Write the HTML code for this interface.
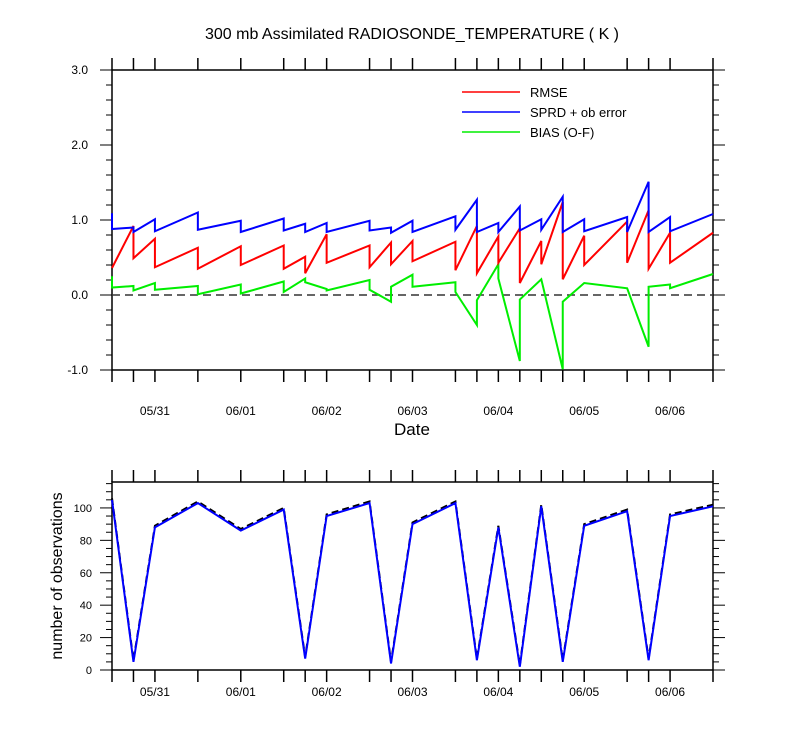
<!DOCTYPE html>
<html><head><meta charset="utf-8"><style>
body{margin:0;background:#fff}
svg{display:block;font-family:"Liberation Sans",sans-serif}
</style></head><body>
<svg id="c" width="800" height="750"></svg>
<script>
const times=[0,6,12,24,36,48,54,60,72,78,84,96,102,108,114,120,126,132,144,150,156,168];
const rmseEnd=[0.36,0.92,0.75,0.63,0.65,0.66,0.51,0.81,0.66,0.70,0.72,0.71,0.92,0.78,0.89,0.72,1.24,0.79,0.98,1.13,0.83,0.83];
const rmseStart=[0.36,0.49,0.37,0.35,0.40,0.35,0.29,0.43,0.37,0.41,0.45,0.33,0.29,0.43,0.16,0.41,0.21,0.40,0.43,0.35,0.43,0.83];
const sprdEnd=[1.09,0.90,1.01,1.10,0.99,1.02,0.95,0.96,0.99,0.90,0.99,1.05,1.27,0.96,1.18,1.01,1.31,1.01,1.04,1.51,1.04,1.08];
const sprdStart=[0.88,0.84,0.85,0.87,0.84,0.86,0.84,0.84,0.86,0.83,0.84,0.87,0.84,0.84,0.86,0.87,0.84,0.85,0.84,0.84,0.85,1.08];
const biasEnd=[0.25,0.12,0.16,0.12,0.14,0.18,0.22,0.08,0.20,-0.09,0.27,0.17,-0.40,0.41,-0.88,0.21,-0.99,0.16,0.09,-0.69,0.14,0.28];
const biasStart=[0.10,0.06,0.07,0.01,0.02,0.04,0.17,0.06,0.07,0.11,0.11,0.04,-0.07,0.22,-0.06,0.21,-0.09,0.16,0.09,0.11,0.09,0.28];
const obsTotal=[106,6,89,104,87,100,8,96,104,5,91,104,7,89,3,102,6,90,99,7,96,102];
const obsAssim=[105,5,88,103,86,99,7,95,103,4,90,103,6,88,2,101,5,89,98,6,95,101];
const dateLabels=["05/31","06/01","06/02","06/03","06/04","06/05","06/06"];
const dateHours=[12,36,60,84,108,132,156];
const yTopTicks=[-1,0,1,2,3];
const yTopLabels=["-1.0","0.0","1.0","2.0","3.0"];
const yBotTicks=[0,20,40,60,80,100];

const NS="http://www.w3.org/2000/svg";
const svg=document.getElementById('c');
function el(t,a,p){const e=document.createElementNS(NS,t);for(const k in a)e.setAttribute(k,a[k]);(p||svg).appendChild(e);return e;}
const X0=112,X1=713;
const xs=h=>X0+h/168*(X1-X0);
const T0=70,T1=370; const yT=v=>T1-(v+1)/4*(T1-T0);
const B0=482,B1=670; const yB=v=>B1-v/116*(B1-B0);

function txt(x,y,s,size,anchor,name){const t=el('text',{x:x,y:y,'font-size':size,'text-anchor':anchor||'middle',fill:'#000'});t.textContent=s;

return t;}

// title
txt(412,39,"300 mb Assimilated RADIOSONDE_TEMPERATURE ( K )",16,'middle','chart-title');

function frame(top,bot,name){
 const g=el('g',{});
 
 
 el('rect',{x:X0,y:top,width:X1-X0,height:bot-top,fill:'none',stroke:'#000','stroke-width':1.5},g);
 times.forEach(h=>{const x=xs(h);
  el('line',{x1:x,x2:x,y1:bot,y2:bot+12,stroke:'#000','stroke-width':1.5},g);
  el('line',{x1:x,x2:x,y1:top,y2:top-12,stroke:'#000','stroke-width':1.5},g);});
 return g;
}
const gT=frame(T0,T1,'top-plot-frame');
for(let v=-1;v<=3.001;v+=0.2){const y=yT(v);const maj=Math.abs(v-Math.round(v))<1e-6;const L=maj?12:6;
 el('line',{x1:X0-L,x2:X0,y1:y,y2:y,stroke:'#000','stroke-width':1},gT);
 el('line',{x1:X1,x2:X1+L,y1:y,y2:y,stroke:'#000','stroke-width':1},gT);}
yTopTicks.forEach((v,i)=>txt(88,yT(v)+4,yTopLabels[i],12,'end','y-tick-label'));
dateLabels.forEach((s,i)=>txt(xs(dateHours[i]),415,s,12,'middle','x-tick-label'));
txt(412,435,"Date",17,'middle','x-axis-title');
el('line',{x1:X0,x2:X1,y1:yT(0),y2:yT(0),stroke:'#333','stroke-width':1.5,'stroke-dasharray':'8 5'});

function saw(endA,startA,color,name){
 let d='M'+xs(times[0])+','+yT(endA[0])+' L'+xs(times[0])+','+yT(startA[0]);
 for(let i=1;i<times.length;i++){d+=' L'+xs(times[i])+','+yT(endA[i])+' L'+xs(times[i])+','+yT(startA[i]);}
 const p=el('path',{d:d,fill:'none',stroke:color,'stroke-width':2});
 
 
}
saw(biasEnd,biasStart,'#00ee00','bias-line');
saw(rmseEnd,rmseStart,'#ff0000','rmse-line');
saw(sprdEnd,sprdStart,'#0000ff','sprd-line');

const leg=[["RMSE","#ff0000"],["SPRD + ob error","#0000ff"],["BIAS (O-F)","#00ee00"]];
leg.forEach((l,i)=>{const y=92+i*20;
 const ln=el('line',{x1:462,x2:520,y1:y,y2:y,stroke:l[1],'stroke-width':1.5});
 
 txt(530,y+5,l[0],13,'start','legend-entry');});

// bottom
const gB=frame(B0,B1,'bottom-plot-frame');
for(let v=0;v<=115;v+=5){const y=yB(v);const maj=v%20===0;const L=maj?12:6;
 el('line',{x1:X0-L,x2:X0,y1:y,y2:y,stroke:'#000','stroke-width':1},gB);
 el('line',{x1:X1,x2:X1+L,y1:y,y2:y,stroke:'#000','stroke-width':1},gB);}
yBotTicks.forEach(v=>txt(92,yB(v)+4,String(v),11,'end','y-tick-label'));
dateLabels.forEach((s,i)=>txt(xs(dateHours[i]),696,s,12,'middle','x-tick-label'));
const yl=txt(0,0,"number of observations",16,'middle','y-axis-title');
yl.setAttribute('transform','translate(62,576) rotate(-90)');
function line(arr,color,dash,name){
 const d=arr.map((v,i)=>(i?'L':'M')+xs(times[i])+','+yB(v)).join(' ');
 const a={d:d,fill:'none',stroke:color,'stroke-width':2};if(dash)a['stroke-dasharray']=dash;
 const p=el('path',a);
 
 
}
line(obsTotal,'#000','7 4','obs-total-line');
line(obsAssim,'#0000ff',null,'obs-assim-line');
</script>
</body></html>
